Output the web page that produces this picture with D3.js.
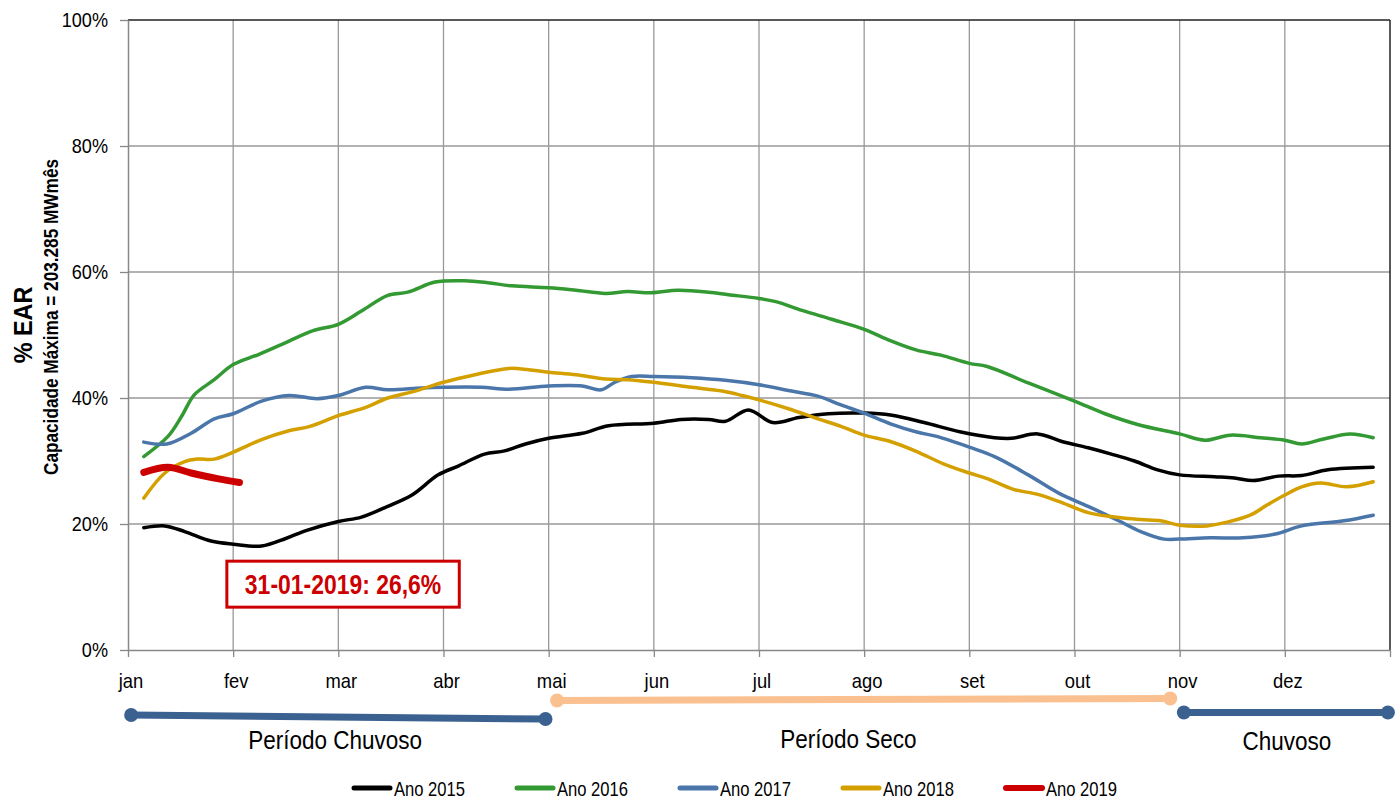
<!DOCTYPE html>
<html>
<head>
<meta charset="utf-8">
<script src="https://cdn.jsdelivr.net/npm/d3@7"></script>
<style>
  html, body { margin: 0; padding: 0; background: #fff; }
  svg { display: block; }
  text { font-family: "Liberation Sans", Arial, sans-serif; }
</style>
</head>
<body>
<svg id="chart" width="1400" height="800"></svg>
<script>
// ---------------- DATA ----------------
const months = ["jan","fev","mar","abr","mai","jun","jul","ago","set","out","nov","dez"];
const yTicks = [0, 20, 40, 60, 80, 100];

// [month position (0 = start of jan), % EAR]
const ano2015 = [[0.15,19.4],[0.35,19.7],[0.54,18.8],[0.79,17.3],[1.0,16.8],[1.27,16.5],[1.5,17.7],[1.7,19.0],[2.0,20.4],[2.22,21.1],[2.47,22.8],[2.7,24.6],[2.95,27.8],[3.14,29.2],[3.39,31.1],[3.58,31.6],[3.78,32.7],[4.0,33.6],[4.32,34.4],[4.57,35.6],[5.0,36.0],[5.26,36.6],[5.52,36.6],[5.68,36.3],[5.9,38.1],[6.13,36.1],[6.38,36.9],[6.66,37.5],[7.0,37.6],[7.25,37.3],[7.57,36.1],[7.92,34.6],[8.24,33.7],[8.4,33.6],[8.65,34.3],[8.88,33.1],[9.13,32.1],[9.35,31.1],[9.57,30.0],[9.79,28.6],[10.0,27.8],[10.33,27.5],[10.52,27.3],[10.7,26.9],[10.94,27.6],[11.16,27.7],[11.41,28.6],[11.84,29.0]];
const ano2016 = [[0.15,30.7],[0.38,33.9],[0.51,37.1],[0.63,40.5],[0.82,42.9],[1.0,45.3],[1.24,46.9],[1.5,48.8],[1.76,50.7],[2.0,51.7],[2.22,53.8],[2.47,56.3],[2.66,56.8],[2.92,58.4],[3.2,58.6],[3.42,58.3],[3.65,57.8],[4.0,57.5],[4.26,57.1],[4.54,56.6],[4.75,56.9],[4.97,56.7],[5.23,57.1],[5.52,56.8],[5.71,56.4],[6.0,55.8],[6.16,55.3],[6.41,53.9],[6.69,52.5],[7.0,50.9],[7.25,49.1],[7.5,47.6],[7.73,46.8],[8.0,45.5],[8.17,45.0],[8.56,42.4],[9.0,39.5],[9.29,37.5],[9.6,35.8],[10.0,34.3],[10.24,33.3],[10.48,34.1],[10.77,33.7],[11.0,33.3],[11.16,32.7],[11.37,33.5],[11.62,34.3],[11.84,33.7]];
const ano2017 = [[0.15,33.0],[0.37,32.7],[0.6,34.4],[0.82,36.7],[1.0,37.5],[1.27,39.5],[1.53,40.4],[1.8,39.9],[2.0,40.4],[2.26,41.7],[2.47,41.3],[2.79,41.6],[3.0,41.7],[3.36,41.7],[3.62,41.4],[4.0,41.9],[4.32,41.9],[4.5,41.3],[4.63,42.5],[4.79,43.4],[5.0,43.4],[5.36,43.2],[5.68,42.8],[6.0,42.1],[6.31,41.1],[6.56,40.3],[6.78,38.9],[7.0,37.6],[7.25,35.9],[7.5,34.6],[7.69,33.9],[8.0,32.2],[8.24,30.7],[8.56,27.8],[8.85,24.9],[9.13,22.8],[9.41,20.6],[9.63,18.8],[9.85,17.6],[10.0,17.6],[10.29,17.8],[10.6,17.8],[10.91,18.4],[11.16,19.7],[11.56,20.5],[11.84,21.4]];
const ano2018 = [[0.15,24.1],[0.35,28.1],[0.54,29.9],[0.66,30.3],[0.82,30.3],[1.0,31.4],[1.27,33.4],[1.53,34.8],[1.73,35.5],[2.0,37.2],[2.26,38.5],[2.47,40.0],[2.73,41.1],[3.0,42.5],[3.3,43.7],[3.62,44.7],[3.81,44.5],[4.0,44.1],[4.26,43.7],[4.54,43.0],[4.75,42.9],[5.0,42.5],[5.36,41.7],[5.65,41.1],[5.84,40.4],[6.0,39.7],[6.28,38.3],[6.56,36.7],[6.78,35.5],[7.0,34.1],[7.25,33.1],[7.5,31.5],[7.76,29.5],[8.0,28.1],[8.17,27.2],[8.42,25.5],[8.65,24.7],[8.88,23.4],[9.13,21.8],[9.38,21.1],[9.63,20.7],[9.82,20.5],[10.0,19.8],[10.26,19.7],[10.45,20.3],[10.67,21.4],[10.83,23.0],[11.0,24.6],[11.16,25.9],[11.34,26.5],[11.59,25.9],[11.84,26.7]];
const ano2019 = [[0.15,28.2],[0.38,29.0],[0.6,28.1],[0.85,27.2],[1.06,26.6]];

const seriesNames = ["Ano 2015","Ano 2016","Ano 2017","Ano 2018","Ano 2019"];
const seriesData = [ano2015, ano2016, ano2017, ano2018, ano2019];
const seriesColors = ["#000000","#339933","#4a76aa","#d4a000","#cc0000"];
const seriesWidths = [3.5, 3.5, 3.5, 3.5, 7];

// Periods (month positions)
const periodLabels = ["Período Chuvoso","Período Seco","Chuvoso"];
const periodStart = [0.03, 4.08, 10.04];
const periodEnd = [3.97, 9.91, 11.98];
const periodLabelAt = [1.97, 6.85, 11.02];
const periodColors = ["#3a6190","#fac090","#3a6190"];

const annotationText = "31-01-2019: 26,6%";
const yTitle = "% EAR";
const ySubTitle = "Capacidade Máxima = 203.285 MWmês";

// ---------------- LAYOUT ----------------
const svg = d3.select("#chart");
const M = {left: 128, top: 20, right: 1390, bottom: 650};
const x = d3.scaleLinear().domain([0, 12]).range([M.left, M.right]);
const y = d3.scaleLinear().domain([0, 100]).range([M.bottom, M.top]);

function ntext(g, tx, ty, str, opts) {
  const o = Object.assign({size: 20, weight: "normal", anchor: "start", sx: 0.9, rot: 0, fill: "#000"}, opts || {});
  return g.append("text")
    .attr("transform", `translate(${tx},${ty})` + (o.rot ? ` rotate(${o.rot})` : "") + ` scale(${o.sx},1)`)
    .attr("text-anchor", o.anchor)
    .attr("font-size", o.size)
    .attr("font-weight", o.weight)
    .attr("fill", o.fill)
    .text(str);
}

// Gridlines
const grid = svg.append("g");
grid.selectAll("line.v").data(d3.range(1, 12)).join("line")
  .attr("x1", d => x(d)).attr("x2", d => x(d))
  .attr("y1", y(0)).attr("y2", y(100))
  .attr("stroke", "#999").attr("stroke-width", 1.3);
grid.selectAll("line.h").data(yTicks.filter(d => d > 0 && d < 100)).join("line")
  .attr("x1", x(0)).attr("x2", x(12))
  .attr("y1", d => y(d)).attr("y2", d => y(d))
  .attr("stroke", "#999").attr("stroke-width", 1.3);

// Border top & right
svg.append("line").attr("x1", x(0)).attr("x2", x(12)).attr("y1", y(100)).attr("y2", y(100))
  .attr("stroke", "#222").attr("stroke-width", 1.5);
svg.append("line").attr("x1", x(12)).attr("x2", x(12)).attr("y1", y(100)).attr("y2", y(0))
  .attr("stroke", "#222").attr("stroke-width", 1.5);

// Axes
const xAxis = svg.append("g").attr("transform", `translate(0,${y(0)})`)
  .call(d3.axisBottom(x).tickValues(d3.range(0, 13)).tickSize(7).tickSizeOuter(0).tickFormat(""));
xAxis.select(".domain").attr("stroke", "#888").attr("stroke-width", 1.5);
xAxis.selectAll(".tick line").attr("stroke", "#888").attr("stroke-width", 1.3);
months.forEach((m, i) => ntext(svg, x(i) + 3, y(0) + 38, m, {size: 20, anchor: "middle", sx: 0.92}));

const yAxis = svg.append("g").attr("transform", `translate(${x(0)},0)`)
  .call(d3.axisLeft(y).tickValues(yTicks).tickSize(8).tickSizeOuter(0).tickFormat(""));
yAxis.select(".domain").attr("stroke", "#888").attr("stroke-width", 1.5);
yAxis.selectAll(".tick line").attr("stroke", "#888").attr("stroke-width", 1.3);
yTicks.forEach(t => ntext(svg, x(0) - 20, y(t) + 7, t + "%", {size: 19.5, anchor: "end", sx: 0.93}));

// Y titles
ntext(svg, 32, 325, yTitle, {size: 26, weight: "bold", anchor: "middle", rot: -90, sx: 0.9});
ntext(svg, 58, 317, ySubTitle, {size: 21, weight: "bold", anchor: "middle", rot: -90, sx: 0.82});

// Series
const line = d3.line().x(d => x(d[0])).y(d => y(d[1])).curve(d3.curveCatmullRom.alpha(0.5));
seriesData.forEach((data, i) => {
  svg.append("path").datum(data)
    .attr("d", line)
    .attr("fill", "none")
    .attr("stroke", seriesColors[i])
    .attr("stroke-width", seriesWidths[i])
    .attr("stroke-linejoin", "round")
    .attr("stroke-linecap", "round");
});

// Annotation box
const ann = svg.append("g");
ann.append("rect")
  .attr("x", x(0.94)).attr("y", y(14.1))
  .attr("width", x(3.15) - x(0.94)).attr("height", y(6.8) - y(14.1))
  .attr("fill", "#fff").attr("stroke", "#cc0000").attr("stroke-width", 3);
ntext(ann, (x(0.94) + x(3.15)) / 2, y(10.45) + 10, annotationText, {size: 27, weight: "bold", anchor: "middle", sx: 0.85, fill: "#cc0000"});

// Periods
const periodY1 = [715, 700.5, 712.5];
const periodY2 = [719, 698.5, 712.5];
const labelBase = [749, 748, 750];
periodLabels.forEach((lab, i) => {
  const g = svg.append("g");
  g.append("line")
    .attr("x1", x(periodStart[i])).attr("x2", x(periodEnd[i]))
    .attr("y1", periodY1[i]).attr("y2", periodY2[i])
    .attr("stroke", periodColors[i]).attr("stroke-width", 7);
  g.append("circle").attr("cx", x(periodStart[i])).attr("cy", periodY1[i]).attr("r", 7).attr("fill", periodColors[i]);
  g.append("circle").attr("cx", x(periodEnd[i])).attr("cy", periodY2[i]).attr("r", 7).attr("fill", periodColors[i]);
  ntext(g, x(periodLabelAt[i]), labelBase[i], lab, {size: 25, anchor: "middle", sx: 0.9});
});

// Legend
const legend = svg.append("g");
seriesNames.forEach((name, i) => {
  const lx = 352 + i * 163;
  legend.append("line").attr("x1", lx + 2).attr("x2", lx + 38).attr("y1", 788).attr("y2", 788)
    .attr("stroke", seriesColors[i]).attr("stroke-width", i === 4 ? 6 : 5).attr("stroke-linecap", "round");
  ntext(legend, lx + 42, 796, name, {size: 20, anchor: "start", sx: 0.83});
});
</script>
</body>
</html>
